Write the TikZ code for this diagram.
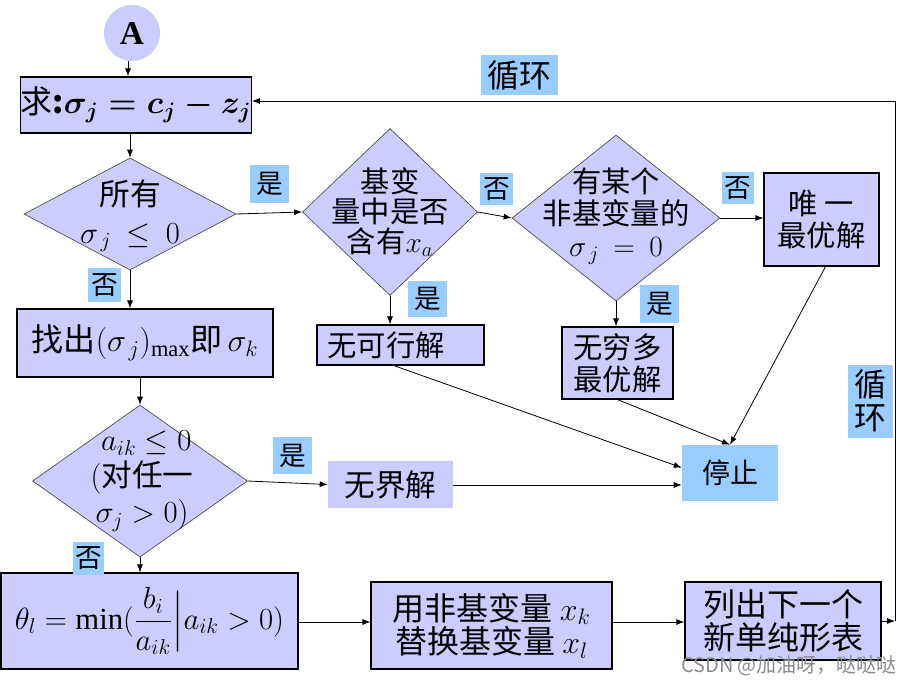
\RequirePackage{fix-cm}
\documentclass[tikz,border=0pt]{standalone}
\usepackage{amsmath}
\usepackage{fontspec}
\setmainfont{Liberation Serif}
\newfontfamily\cjk{Noto Sans CJK SC}
\usetikzlibrary{arrows.meta,shapes.geometric}
\newlength\px \setlength\px{0.75pt}
\definecolor{lav}{HTML}{CCCCFF}
\definecolor{lbl}{HTML}{99CCFF}
\newcommand\fs[2]{\fontsize{#1}{#2}\selectfont}
\begin{document}
\begin{tikzpicture}[x=0.75pt,y=-0.75pt,
  box/.style={draw=black, line width=0.9pt, fill=lav, inner sep=0pt, align=center, font=\cjk\fs{22}{24}},
  plain/.style={fill=lav, inner sep=0pt, align=center, font=\cjk\fs{22}{24}},
  dia/.style={diamond, draw=black!70, line width=0.5pt, fill=lav, inner sep=0pt, aspect=1},
  dtext/.style={align=center, inner sep=0pt, font=\cjk\fs{22}{23}},
  lab/.style={fill=lbl, inner sep=0pt, align=center, font=\cjk\fs{20}{20}},
  arr/.style={-{Latex[length=6pt,width=4.5pt]}, line width=0.6pt},
  ln/.style={line width=0.6pt}]
\useasboundingbox (0,0) rectangle (905,685);

% start
\node[circle, fill=lav, minimum size=56\px, inner sep=0pt, font=\fs{25}{25}\bfseries] (A) at (132,33) {A};
\node[box, minimum width=224\px, minimum height=56\px, font=\cjk\fs{24}{26}] (qiu) at (136,105)
  {求\textbf{:}{\boldmath$\sigma_j = c_j - z_j$}};

% diamond 1
\node[dia, minimum width=212\px, minimum height=112\px] (d1) at (130,214) {};
\node[dtext, font=\cjk\fs{23}{28}] (t1) at (130,216) {所有\\$\sigma_{\,j}\ \le\ 0$};

% diamond 2
\node[dia, minimum width=175\px, minimum height=167\px] (d2) at (390,212) {};
\node[dtext, font=\cjk\fs{22}{22.5}] (t2) at (390,212) {基变\\量中是否\\含有$x_a$};

% diamond 3
\node[dia, minimum width=208\px, minimum height=166\px] (d3) at (616,218) {};
\node[dtext, font=\cjk\fs{22}{24}] (t3) at (616,216) {有某个\\非基变量的\\$\sigma_{\,j}\ =\ 0$};

% result boxes
\node[box, minimum width=115\px, minimum height=93\px] (wy) at (821.5,219.5) {唯\ 一\\最优解};
\node[box, minimum width=167\px, minimum height=40\px] (wkx) at (400.5,345) {};
\node[dtext] (twkx) at (386,345) {无可行解};
\node[box, minimum width=111\px, minimum height=72\px] (wq) at (617.5,363) {无穷多\\最优解};
\node[box, minimum width=256\px, minimum height=68\px, font=\cjk\fs{24}{26}] (zc) at (145,343)
  {找出$(\sigma_{\,j})_{\max}$即$\,\sigma_k$};

% diamond 4
\node[dia, minimum width=215\px, minimum height=152\px] (d4) at (140,481) {};
\node[dtext, font=\cjk\fs{23}{27}] (t4) at (142,481) {$\;a_{ik}\le 0$\\$($对任一\\$\sigma_j>0)$};

\node[plain, minimum width=125\px, minimum height=47\px, font=\cjk\fs{23}{24}] (wj) at (390.5,484.5) {无界解};
\node[lab, minimum width=96\px, minimum height=56\px, font=\cjk\fs{21}{21}] (tz) at (730,473) {停止};

% bottom row
\node[box, minimum width=297\px, minimum height=96\px, font=\fs{23}{24}] (th) at (149.5,621)
  {$\displaystyle \theta_l=\min(\frac{b_i}{a_{ik}}\Big|a_{ik}>0)$};
\node[box, minimum width=241\px, minimum height=87\px, font=\cjk\fs{24}{25}] (yong) at (491.5,625.5)
  {用非基变量\ $x_k$\\替换基变量\ $x_l$};
\node[box, minimum width=196\px, minimum height=78\px, font=\cjk\fs{24}{25}] (lc) at (783,621)
  {列出下一个\\新单纯形表};

% labels
\node[lab, minimum width=77\px, minimum height=40\px, font=\cjk\fs{24}{24}] (lxh1) at (519.5,75) {循环};
\node[lab, minimum width=45\px, minimum height=73\px, font=\cjk\fs{24}{25}] (lxh2) at (870,401) {循\\环};
\node[lab, minimum width=39\px, minimum height=38\px] (ls1) at (269.5,184) {是};
\node[lab, minimum width=33\px, minimum height=34\px] (lf1) at (104.5,285) {否};
\node[lab, minimum width=33\px, minimum height=32\px] (lf2) at (496.5,189) {否};
\node[lab, minimum width=39\px, minimum height=36\px] (ls2) at (427.5,299) {是};
\node[lab, minimum width=32\px, minimum height=32\px] (lf3) at (738,188) {否};
\node[lab, minimum width=39\px, minimum height=38\px] (ls3) at (659.5,304) {是};
\node[lab, minimum width=39\px, minimum height=37\px] (ls4) at (292.5,455.5) {是};
\node[lab, minimum width=31\px, minimum height=33\px] (lf4) at (88.5,558.5) {否};

% watermark
\node[font=\cjk\fs{15}{15}, text=black!45, inner sep=0pt] (wm) at (789,666) {CSDN @加油呀，哒哒哒};

% connectors
\coordinate (lb) at (895,621);
\coordinate (lt) at (895,101);
\draw[arr] (A.south -| 128,0) -- (qiu.north -| 128,0);
\draw[arr] (qiu.south -| d1.north) -- (d1.north);
\draw[arr] (d1.east) -- (d2.west);
\draw[arr] (d2.east) -- (d3.west);
\draw[arr] (d3.east) -- (wy.west |- d3.east);
\draw[arr] (d2.south) -- (d2.south |- wkx.north);
\draw[arr] (d3.south) -- (d3.south |- wq.north);
\draw[arr] (d1.south) -- (d1.south |- zc.north);
\draw[arr] (zc.south -| d4.north) -- (d4.north);
\draw[arr] (d4.east) -- (wj.west);
\draw[arr] (d4.south) -- (d4.south |- th.north);
\draw[arr] (th.east |- 0,622) -- (yong.west |- 0,622);
\draw[arr] (yong.east |- 0,622) -- (lc.west |- 0,622);
\draw[arr] (lc.east |- lb) -- (lb);
\draw[arr] (lb) -- (lt) -- (lt -| qiu.east);
\draw[arr] ([xshift=-5pt]wkx.south) -- ([yshift=4pt]tz.west);
\draw[arr] (wq.south) -- (tz.north);
\draw[arr] ([xshift=3pt]wy.south) -- (tz.north);
\draw[arr] (wj.east |- 0,485) -- (tz.west |- 0,485);
\end{tikzpicture}
\end{document}
